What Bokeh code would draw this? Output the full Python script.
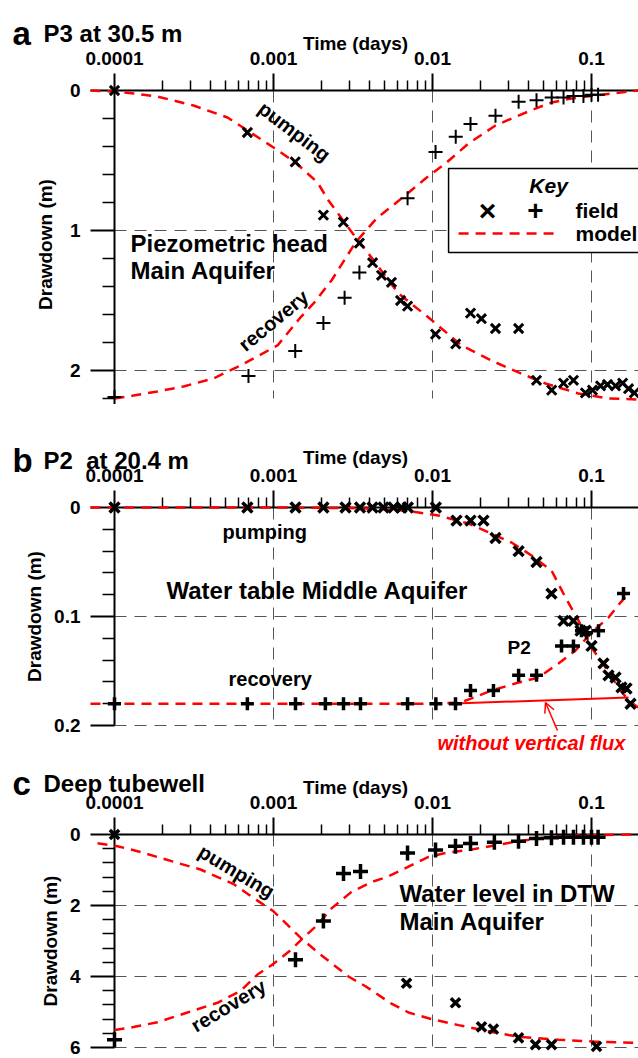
import math
from bokeh.plotting import figure
from bokeh.layouts import column
from bokeh.models import (Range1d, FixedTicker, CustomJSTickFormatter, Label,
                          BoxAnnotation, Arrow, OpenHead)
from bokeh.embed import file_html
from bokeh.resources import INLINE

FONT = "Liberation Sans"
RED = "#ff0000"

# ---------------- ticks ----------------
x_major = [1e-4, 1e-3, 1e-2, 1e-1]
x_minor = [k * 10.0 ** e for e in (-4, -3, -2, -1) for k in range(2, 10)]
x_grid = [1e-3, 1e-2, 1e-1]
X_LO, X_HI = 10 ** (-4 - 114 / 159), 10 ** (-4 + 524 / 159)

# ---------------- panel a : P3 at 30.5 m ----------------
a_pump_t = [1.0e-4, 6.85e-4, 1.37e-3, 2.06e-3, 2.75e-3, 3.47e-3, 4.2e-3, 4.78e-3,
            5.52e-3, 6.3e-3, 6.97e-3, 0.01045, 0.0140, 0.01734, 0.0203, 0.0249,
            0.0348, 0.0451, 0.0562, 0.0667, 0.077, 0.0916, 0.1014, 0.114, 0.126,
            0.1416, 0.157, 0.171, 0.186]
a_pump_s = [0.0, 0.30, 0.51, 0.89, 0.94, 1.09, 1.23, 1.32, 1.37, 1.50, 1.54, 1.74,
            1.81, 1.59, 1.63, 1.70, 1.70, 2.07, 2.14, 2.09, 2.07, 2.16, 2.14, 2.11,
            2.10, 2.11, 2.09, 2.13, 2.16]
a_rec_t = [1.0e-4, 6.96e-4, 1.37e-3, 2.06e-3, 2.8e-3, 3.47e-3, 6.97e-3, 0.01045,
           0.0140, 0.01734, 0.0249, 0.0348, 0.0451, 0.0562, 0.0667, 0.077, 0.089,
           0.1, 0.11]
a_rec_s = [2.19, 2.04, 1.86, 1.66, 1.48, 1.30, 0.77, 0.44, 0.33, 0.24, 0.18, 0.08,
           0.07, 0.05, 0.05, 0.04, 0.04, 0.03, 0.03]
a_mpump_t = [7.06e-5, 1e-4, 1.316e-4, 1.864e-4, 3.139e-4, 5.137e-4, 6.864e-4, 1e-3,
             1.375e-3, 1.891e-3, 2.218e-3, 3.05e-3, 4.134e-3, 6.11e-3, 9.44e-3,
             0.01522, 0.0235, 0.03475, 0.05137, 0.0828, 0.1279, 0.1975]
a_mpump_s = [0.0, 0.007, 0.021, 0.043, 0.107, 0.193, 0.286, 0.407, 0.514, 0.657,
             0.786, 1.0, 1.193, 1.45, 1.621, 1.821, 1.929, 2.014, 2.093, 2.164, 2.2,
             2.207]
a_mrec_t = [1e-4, 1.316e-4, 1.864e-4, 2.716e-4, 4.195e-4, 6.2e-4, 1.06e-3, 1.478e-3,
            1.785e-3, 2.316e-3, 3.279e-3, 4.444e-3, 5.936e-3, 6.965e-3, 9.036e-3,
            0.01207, 0.01684, 0.02489, 0.03475, 0.04445, 0.05604, 0.07481, 0.106,
            0.1709, 0.1975]
a_mrec_s = [2.2, 2.179, 2.15, 2.114, 2.057, 1.964, 1.821, 1.621, 1.521, 1.357,
            1.086, 0.914, 0.8, 0.736, 0.629, 0.521, 0.379, 0.25, 0.179, 0.129,
            0.086, 0.057, 0.036, 0.007, 0.0]
a_y_major = [0, 1, 2]
a_y_minor = [0.2, 0.4, 0.6, 0.8, 1.2, 1.4, 1.6, 1.8, 2.2]
a_y_grid = [1, 2]

# ---------------- panel b : P2 at 20.4 m ----------------
b_pump_t = [1e-4, 6.85e-4, 1.375e-3, 2.06e-3, 2.836e-3, 3.5e-3, 4.194e-3, 4.917e-3,
            5.687e-3, 6.383e-3, 7.0e-3, 0.0105, 0.01416, 0.01734, 0.02093, 0.0249,
            0.0348, 0.0451, 0.056, 0.0667, 0.077, 0.0853, 0.092, 0.1, 0.119,
            0.1279, 0.1416, 0.1544, 0.166, 0.176]
b_pump_s = [0, 0, 0, 0, 0, 0, 0, 0, 0, 0, 0, 0, 0.012, 0.012, 0.012, 0.028, 0.040,
            0.050, 0.079, 0.104, 0.104, 0.113, 0.113, 0.127, 0.143, 0.154, 0.156,
            0.165, 0.166, 0.18]
b_rec_t = [1e-4, 6.85e-4, 1.375e-3, 2.12e-3, 2.756e-3, 3.525e-3, 6.97e-3, 0.0105,
           0.01395, 0.01734, 0.02418, 0.0348, 0.0451, 0.06477, 0.077, 0.0865, 0.093,
           0.1107, 0.159]
b_rec_s = [0.18, 0.18, 0.18, 0.18, 0.18, 0.18, 0.18, 0.18, 0.18, 0.168, 0.168,
           0.154, 0.154, 0.127, 0.127, 0.113, 0.115, 0.113, 0.079]
b_mpump_t = [7.06e-5, 1e-3, 3e-3, 6e-3, 8.17e-3, 0.0109, 0.01684, 0.03139, 0.04195,
             0.05604, 0.0686, 0.0828, 0.1, 0.1224, 0.1478, 0.1709, 0.1975]
b_mpump_s = [0.0, 0.0, 0.0005, 0.002, 0.0046, 0.0073, 0.0147, 0.0321, 0.044, 0.0578,
             0.0826, 0.1037, 0.1284, 0.1468, 0.1651, 0.1771, 0.1835]
b_mrec_t = [7.06e-5, 1e-3, 0.01, 0.015, 0.0235, 0.03475, 0.04642, 0.06202, 0.07931,
            0.1, 0.1279, 0.1522, 0.1709]
b_mrec_s = [0.18, 0.18, 0.18, 0.179, 0.168, 0.1606, 0.156, 0.1431, 0.1312, 0.1147,
            0.1009, 0.0872, 0.0789]
b_noflux_t = [0.0125, 0.171]
b_noflux_s = [0.180, 0.1743]
b_y_major = [0, 0.1, 0.2]
b_y_minor = [0.02, 0.04, 0.06, 0.08, 0.12, 0.14, 0.16, 0.18]
b_y_grid = [0.1, 0.2]

# ---------------- panel c : Deep tubewell ----------------
c_pump_t = [1e-4, 6.864e-3, 0.01395, 0.02033, 0.02418, 0.03475, 0.04445, 0.05604,
            0.1075]
c_pump_s = [0, 4.19, 4.74, 5.42, 5.48, 5.73, 5.92, 5.92, 5.97]
c_rec_t = [1e-4, 1.375e-3, 2.06e-3, 2.756e-3, 3.525e-3, 6.965e-3, 0.01045, 0.01395,
           0.01734, 0.0245, 0.03475, 0.0451, 0.056, 0.0667, 0.077, 0.089, 0.1, 0.11]
c_rec_s = [5.78, 3.53, 2.44, 1.10, 1.04, 0.52, 0.44, 0.33, 0.25, 0.22, 0.19, 0.11,
           0.09, 0.08, 0.08, 0.08, 0.08, 0.08]
c_mpump_t = [7.82e-5, 1.044e-4, 1.457e-4, 2.35e-4, 3.475e-4, 5.604e-4, 7.931e-4,
             1e-3, 1.478e-3, 1.891e-3, 2.962e-3, 3.79e-3, 5.523e-3, 7.067e-3,
             9.44e-3, 0.01457, 0.0235, 0.03475, 0.06202, 0.106, 0.1785, 0.1975]
c_mpump_s = [0.247, 0.329, 0.493, 0.767, 0.986, 1.397, 1.863, 2.164, 2.904, 3.315,
             4.0, 4.274, 4.767, 5.014, 5.178, 5.37, 5.562, 5.699, 5.781, 5.836,
             5.863, 5.863]
c_mrec_t = [1e-4, 1.316e-4, 1.864e-4, 2.878e-4, 4.443e-4, 6.2e-4, 7.931e-4, 1e-3,
            1.279e-3, 1.544e-3, 1.891e-3, 2.316e-3, 3.094e-3, 4.134e-3, 5.289e-3,
            7.067e-3, 9.44e-3, 0.01207, 0.01684, 0.02489, 0.03475, 0.05137, 0.0828,
            0.1709, 0.1975]
c_mrec_s = [5.507, 5.425, 5.288, 5.014, 4.74, 4.411, 3.945, 3.644, 3.26, 2.904,
            2.548, 2.082, 1.616, 1.342, 1.178, 0.904, 0.63, 0.521, 0.438, 0.301,
            0.192, 0.082, 0.027, 0.0, 0.0]
c_y_major = [0, 2, 4, 6]
c_y_minor = [0.4, 0.8, 1.2, 1.6, 2.4, 2.8, 3.2, 3.6, 4.4, 4.8, 5.2, 5.6]
c_y_grid = [2, 4, 6]


def panel(height, s_top, s_bottom, y_major, y_minor, y_grid, y_end):
    p = figure(width=638, height=height, x_axis_type="log", x_axis_location="above",
               x_range=Range1d(X_LO, X_HI), y_range=Range1d(s_bottom, s_top),
               output_backend="svg", toolbar_location=None,
               min_border_left=0, min_border_right=0,
               min_border_top=0, min_border_bottom=0)
    p.outline_line_color = None
    p.background_fill_color = "white"
    p.border_fill_color = "white"

    xa = p.xaxis[0]
    xa.ticker = FixedTicker(ticks=x_major, minor_ticks=x_minor)
    xa.formatter = CustomJSTickFormatter(code="return String(tick);")
    xa.fixed_location = 0
    xa.bounds = (1e-4, X_HI)
    ya = p.yaxis[0]
    ya.ticker = FixedTicker(ticks=y_major, minor_ticks=y_minor)
    ya.formatter = CustomJSTickFormatter(code="return String(tick);")
    ya.fixed_location = 1e-4
    ya.bounds = (0, y_end)
    for ax, mj, mn, sd in ((xa, 17, 10, 9), (ya, 24, 12, 10)):
        ax.axis_line_width = 2
        ax.axis_line_color = "black"
        ax.major_tick_line_width = 2
        ax.major_tick_line_color = "black"
        ax.minor_tick_line_width = 1.5
        ax.minor_tick_line_color = "black"
        ax.major_tick_out = mj
        ax.major_tick_in = 0
        ax.minor_tick_out = mn
        ax.minor_tick_in = 0
        ax.major_label_standoff = sd
        ax.major_label_text_font = FONT
        ax.major_label_text_font_style = "bold"
        ax.major_label_text_font_size = "19px"
        ax.major_label_text_color = "black"

    for g, tk, cb in ((p.xgrid[0], x_grid, (0, y_end)),
                      (p.ygrid[0], y_grid, (1e-4, X_HI))):
        g.ticker = FixedTicker(ticks=tk)
        g.grid_line_color = "#555555"
        g.grid_line_dash = "12 8"
        g.grid_line_width = 1
        g.minor_grid_line_color = None
        if "cross_bounds" in g.properties():
            g.cross_bounds = cb
    return p


def lab(p, x, y, text, size="20px", style="bold", color="black", align="left",
        baseline="middle", angle=0.0):
    p.add_layout(Label(x=x, y=y, text=text, text_font=FONT, text_font_style=style,
                       text_font_size=size, text_color=color, text_align=align,
                       text_baseline=baseline, angle=angle))


def model(p, t, s, dash="10 7"):
    p.line(t, s, line_color=RED, line_width=2.5, line_dash=dash, level="overlay")


def pts(p, t, s, marker, width, size=13):
    p.scatter(t, s, marker=marker, size=size, line_color="black", line_width=width,
              level="overlay")


# ---- panel a (page y 0..410, zero at y=90, 140 px per m)
pa = panel(410, -90 / 140, 320 / 140, a_y_major, a_y_minor, a_y_grid, 2.2)
model(pa, a_mpump_t, a_mpump_s)
model(pa, a_mrec_t, a_mrec_s)
pts(pa, a_pump_t, a_pump_s, "x", 3)
pts(pa, a_rec_t, a_rec_s, "cross", 2, 14)
lab(pa, 2.283e-5, -0.407, "a", size="33px", baseline="alphabetic")
lab(pa, 3.577e-5, -0.407, "P3 at 30.5 m", size="24px", baseline="alphabetic")
lab(pa, 3.279e-3, -0.336, "Time (days)", size="19px", align="center",
    baseline="alphabetic")
lab(pa, 3.68e-5, 1.1, "Drawdown (m)", size="19px", align="center",
    angle=math.pi / 2)
lab(pa, 1.261e-4, 1.093, "Piezometric head", size="24px")
lab(pa, 1.261e-4, 1.286, "Main Aquifer", size="24px")
lab(pa, 1.355e-3, 0.293, "pumping", size="20px", align="center", angle=-0.65)
lab(pa, 1e-3, 1.643, "recovery", size="20px", align="center", angle=0.69)
pa.add_layout(BoxAnnotation(left=0.01262, right=1.0, top=0.557, bottom=1.157,
                            fill_color="white", fill_alpha=1.0, line_color="black",
                            line_width=1.5, line_alpha=1.0))
lab(pa, 0.0537, 0.679, "Key", size="21px", style="bold italic", align="center")
lab(pa, 0.02218, 0.857, "\u00d7", size="30px", align="center")
lab(pa, 0.04445, 0.857, "+", size="28px", align="center")
lab(pa, 0.0793, 0.857, "field", size="21px")
pa.add_layout(Arrow(start=None, end=None, x_start=0.01459, y_start=1.021,
                    x_end=0.062, y_end=1.021, line_color=RED, line_width=2.5,
                    line_dash="10 7"))
lab(pa, 0.0793, 1.021, "model", size="21px")

# ---- panel b (page y 410..756, zero at local y=97, 1090 px per m)
pb = panel(346, -97 / 1090, 249 / 1090, b_y_major, b_y_minor, b_y_grid, 0.2)
model(pb, b_mpump_t, b_mpump_s)
model(pb, b_mrec_t, b_mrec_s)
pb.line(b_noflux_t, b_noflux_s, line_color=RED, line_width=2, level="overlay")
pts(pb, b_pump_t, b_pump_s, "x", 3.5, 14)
pts(pb, b_rec_t, b_rec_s, "cross", 3.5, 13)
lab(pb, 2.283e-5, -0.0431, "b", size="33px", baseline="alphabetic")
lab(pb, 3.577e-5, -0.0431, "P2\u00a0 at 20.4 m", size="24px", baseline="alphabetic")
lab(pb, 3.279e-3, -0.0459, "Time (days)", size="19px", align="center",
    baseline="alphabetic")
lab(pb, 3.14e-5, 0.1, "Drawdown (m)", size="19px", align="center", angle=math.pi / 2)
lab(pb, 4.777e-4, 0.0229, "pumping", size="20px")
lab(pb, 2.123e-4, 0.0761, "Water table Middle Aquifer", size="24px")
lab(pb, 5.21e-4, 0.157, "recovery", size="20px")
lab(pb, 0.02962, 0.1284, "P2", size="19px")
lab(pb, 0.01075, 0.2156, "without vertical flux", size="20px", style="bold italic",
    color=RED)
pb.add_layout(Arrow(end=OpenHead(size=10, line_color=RED, line_width=1.5),
                    x_start=0.0611, y_start=0.2046, x_end=0.05137, y_end=0.1789,
                    line_color=RED, line_width=1.5))

# ---- panel c (page y 756..1058, zero at local y=78, 35.5 px per m)
PXC = 35.5
pc = panel(302, -78 / PXC, 224 / PXC, c_y_major, c_y_minor, c_y_grid, 6)
model(pc, c_mpump_t, c_mpump_s)
model(pc, c_mrec_t, c_mrec_s)
pts(pc, c_pump_t, c_pump_s, "x", 3.5, 13)
pts(pc, c_rec_t, c_rec_s, "cross", 3.5, 15)
lab(pc, 2.283e-5, -51 / PXC, "c", size="33px", baseline="alphabetic")
lab(pc, 3.577e-5, -51 / PXC, "Deep tubewell", size="24px", baseline="alphabetic")
lab(pc, 3.279e-3, -47 / PXC, "Time (days)", size="19px", align="center",
    baseline="alphabetic")
lab(pc, 3.958e-5, 3.0, "Drawdown (m)", size="19px", align="center", angle=math.pi / 2)
lab(pc, 5.853e-4, 1.04, "pumping", size="20px", align="center", angle=-0.54)
lab(pc, 5.21e-4, 4.82, "recovery", size="20px", align="center", angle=0.54)
lab(pc, 6.2e-3, 1.671, "Water level in DTW", size="24px")
lab(pc, 6.2e-3, 2.438, "Main Aquifer", size="24px")

layout = column(pa, pb, pc, spacing=0)
open("out.html", "w").write(file_html(layout, INLINE))
